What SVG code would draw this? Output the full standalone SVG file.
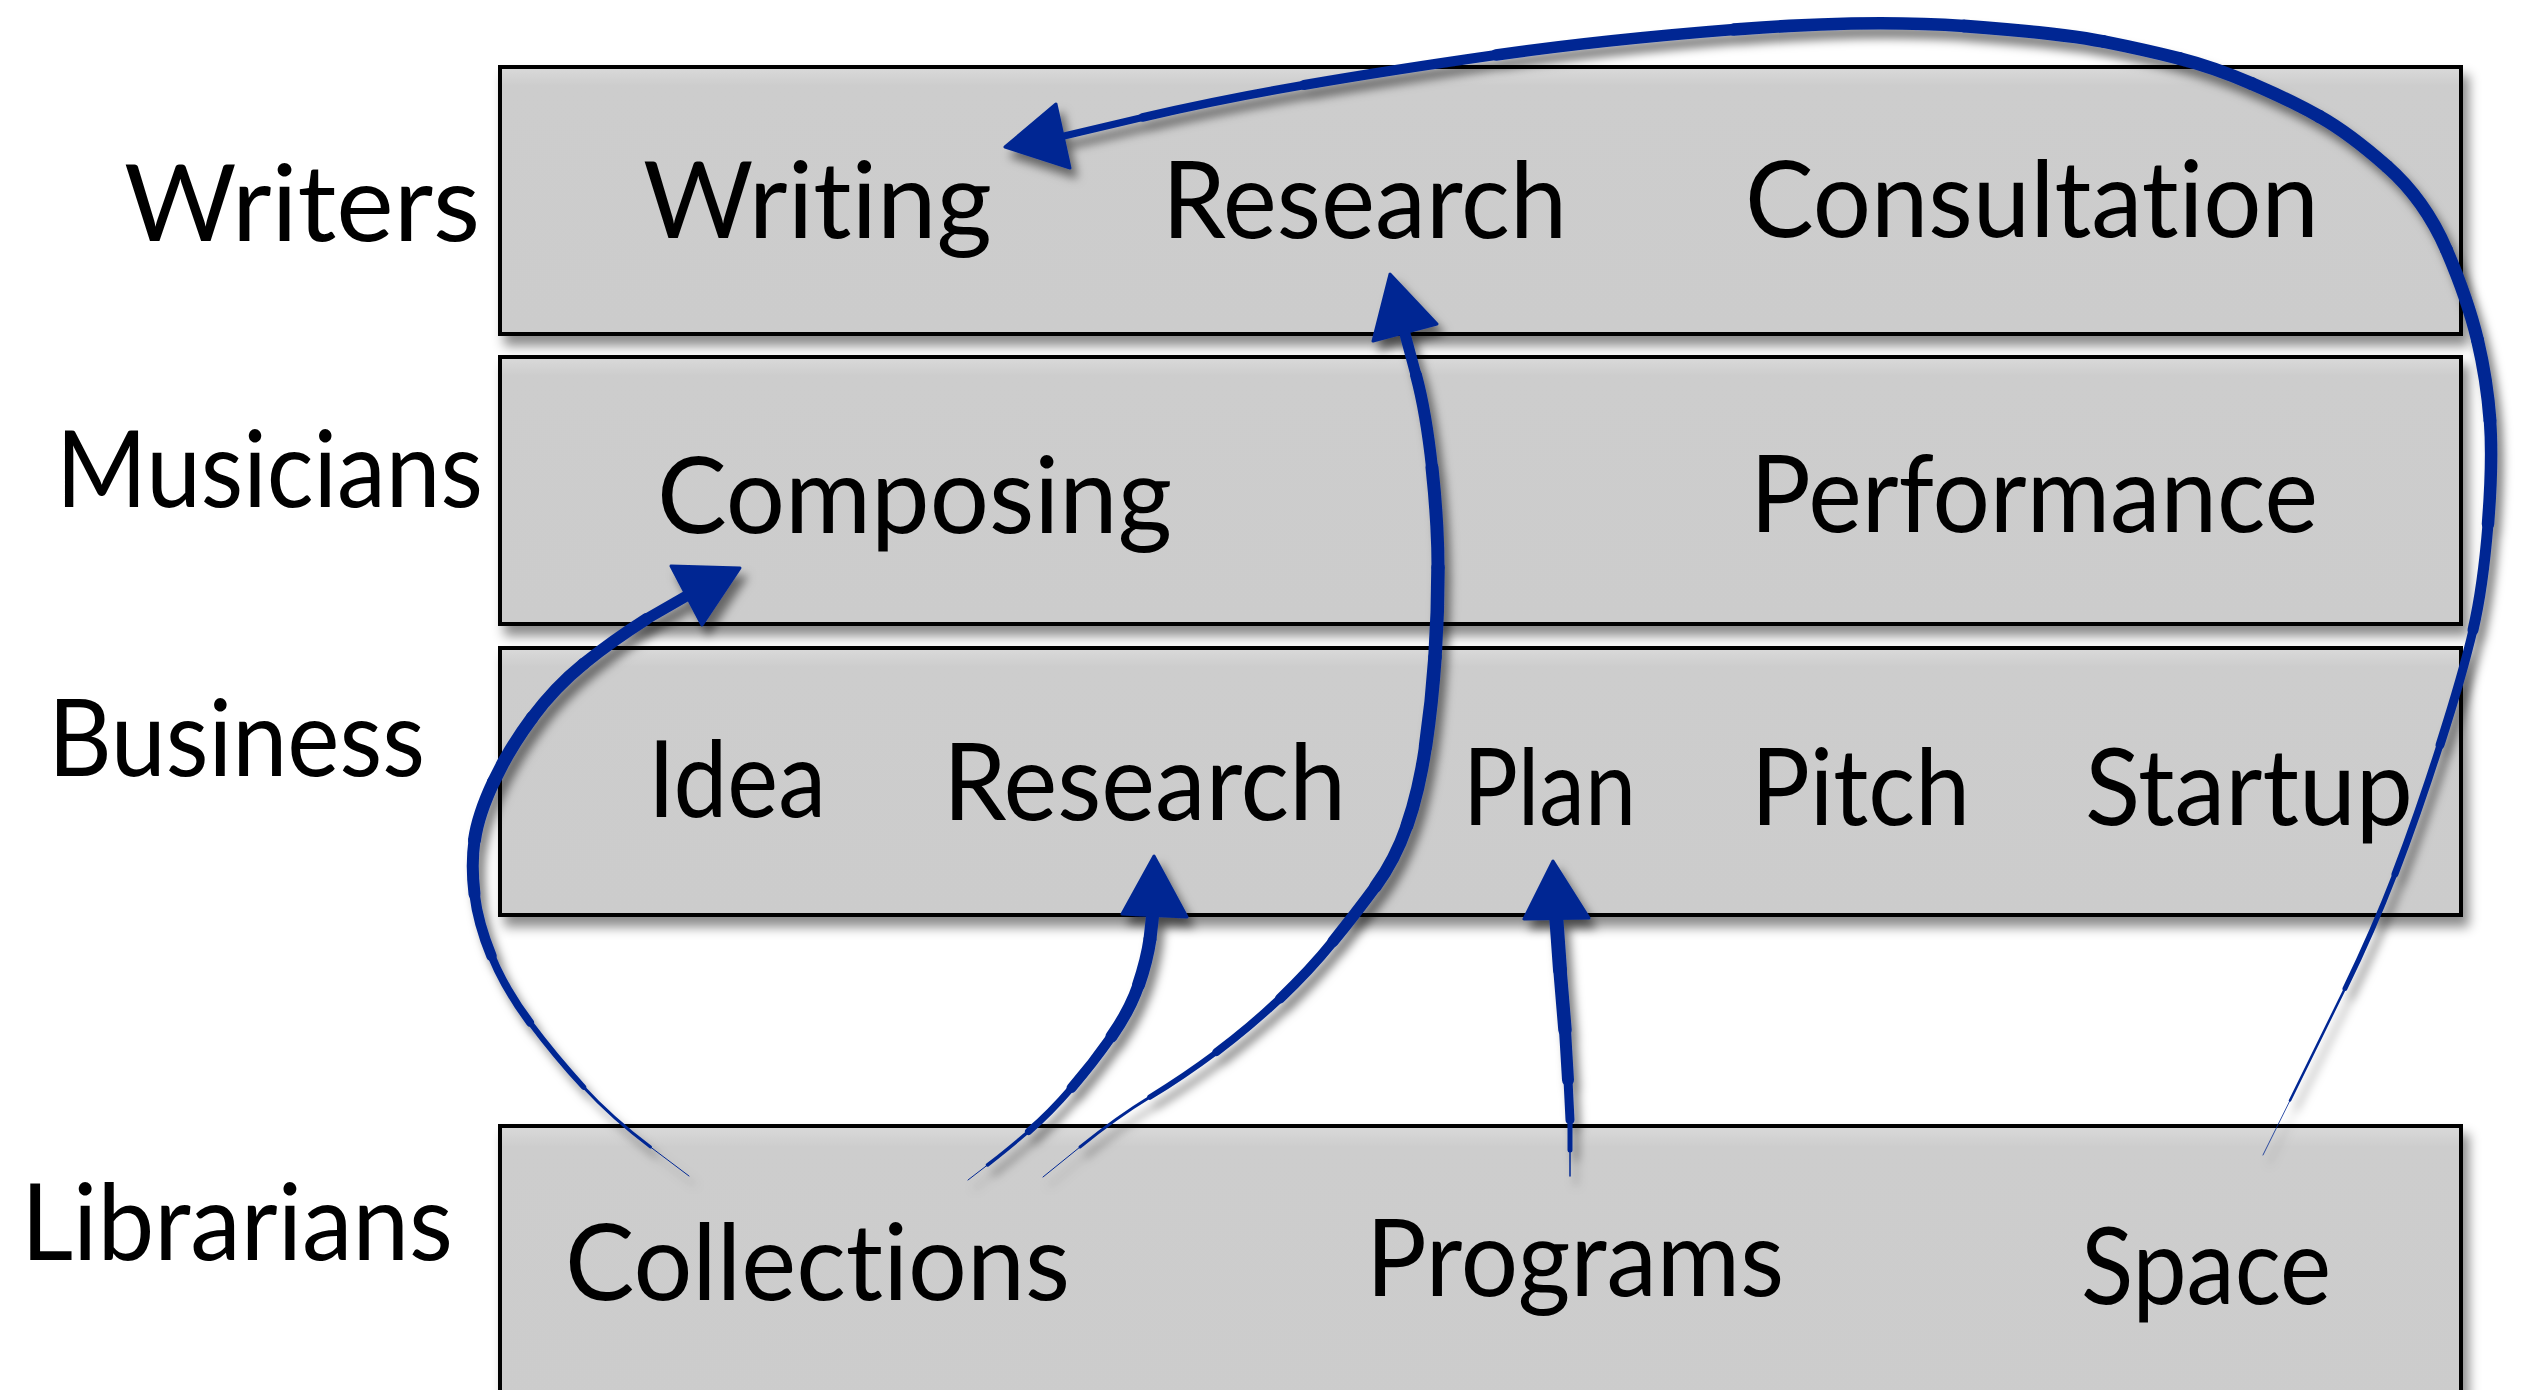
<svg xmlns="http://www.w3.org/2000/svg" width="2524" height="1390" viewBox="0 0 2524 1390">
  <style>
    .box { fill: url(#boxfill); stroke: #000; stroke-width: 4; }
    .lbl { font-family: Lato, "Open Sans", sans-serif; font-size: 106px; fill: #000; font-variant-ligatures: none; font-feature-settings: "liga" 0, "clig" 0; }
    .seg { fill: none; stroke: #002893; stroke-linecap: round; stroke-linejoin: round; }
    .head { fill: #002893; stroke: #002893; stroke-width: 3; stroke-linejoin: round; }
  </style>
  <defs>
    <linearGradient id="boxfill" x1="0" y1="0" x2="0" y2="1">
      <stop offset="0" stop-color="#dadada"/>
      <stop offset="0.07" stop-color="#cdcdcd"/>
      <stop offset="1" stop-color="#cccccc"/>
    </linearGradient>
    <filter id="boxshadow" x="-5%" y="-10%" width="115%" height="140%">
      <feDropShadow dx="6" dy="10" stdDeviation="6" flood-color="#000" flood-opacity="0.45"/>
    </filter>
    <filter id="arrowshadow" x="-10%" y="-10%" width="130%" height="130%">
      <feDropShadow dx="6" dy="9" stdDeviation="5" flood-color="#000" flood-opacity="0.5"/>
    </filter>
  </defs>
  <rect width="2524" height="1390" fill="#ffffff"/>

  <g id="writers">
    <rect class="box" x="500" y="67" width="1961" height="267" filter="url(#boxshadow)"/>
    <text class="lbl" x="124" y="241" textLength="356" lengthAdjust="spacingAndGlyphs">Writers</text>
    <text class="lbl" x="643" y="238" textLength="349" lengthAdjust="spacingAndGlyphs">Writing</text>
    <text class="lbl" x="1162" y="238" textLength="405" lengthAdjust="spacingAndGlyphs">Research</text>
    <text class="lbl" x="1745" y="237" textLength="574" lengthAdjust="spacingAndGlyphs">Consultation</text>
  </g>
  <g id="musicians">
    <rect class="box" x="500" y="357" width="1961" height="267" filter="url(#boxshadow)"/>
    <text class="lbl" x="56" y="507" textLength="427" lengthAdjust="spacingAndGlyphs">Musicians</text>
    <text class="lbl" x="657" y="533" textLength="515" lengthAdjust="spacingAndGlyphs">Composing</text>
    <text class="lbl" x="1750" y="532" textLength="568" lengthAdjust="spacingAndGlyphs">Performance</text>
  </g>
  <g id="business">
    <rect class="box" x="500" y="648" width="1961" height="267" filter="url(#boxshadow)"/>
    <text class="lbl" x="48" y="776" textLength="377" lengthAdjust="spacingAndGlyphs">Business</text>
    <text class="lbl" x="648" y="817" textLength="178" lengthAdjust="spacingAndGlyphs">Idea</text>
    <text class="lbl" x="943" y="820" textLength="403" lengthAdjust="spacingAndGlyphs">Research</text>
    <text class="lbl" x="1463" y="825" textLength="173" lengthAdjust="spacingAndGlyphs">Plan</text>
    <text class="lbl" x="1751" y="825" textLength="219" lengthAdjust="spacingAndGlyphs">Pitch</text>
    <text class="lbl" x="2085" y="825" textLength="328" lengthAdjust="spacingAndGlyphs">Startup</text>
  </g>
  <g id="librarians">
    <rect class="box" x="500" y="1126" width="1961" height="300" filter="url(#boxshadow)"/>
    <text class="lbl" x="21" y="1260" textLength="432" lengthAdjust="spacingAndGlyphs">Librarians</text>
    <text class="lbl" x="565" y="1300" textLength="505" lengthAdjust="spacingAndGlyphs">Collections</text>
    <text class="lbl" x="1366" y="1296" textLength="418" lengthAdjust="spacingAndGlyphs">Programs</text>
    <text class="lbl" x="2081" y="1304" textLength="250" lengthAdjust="spacingAndGlyphs">Space</text>
  </g>

  <g id="connectors" filter="url(#arrowshadow)">
    <g id="space-to-writing">
      <path class="seg" stroke-width="0.8" d="M2263,1155 L2290,1100.5"/>
      <path class="seg" stroke-width="2.5" d="M2290,1100.5 Q2317,1046 2345,988.5"/>
      <path class="seg" stroke-width="5" d="M2345,988.5 Q2373,931 2395,874"/>
      <path class="seg" stroke-width="7" d="M2395,874 Q2417,817 2440,745"/>
      <path class="seg" stroke-width="9" d="M2440,745 Q2463,673 2473,630"/>
      <path class="seg" stroke-width="11" d="M2473,630 Q2483,587 2488,524"/>
      <path class="seg" stroke-width="12.5" d="M2488,524 Q2493,461 2490,420.5"/>
      <path class="seg" stroke-width="13" d="M2490,420.5 Q2487,380 2477.5,340"/>
      <path class="seg" stroke-width="13" d="M2477.5,340 Q2468,300 2446.5,250"/>
      <path class="seg" stroke-width="13" d="M2446.5,250 Q2425,200 2387,166.5"/>
      <path class="seg" stroke-width="13" d="M2387,166.5 Q2349,133 2319.5,116.5"/>
      <path class="seg" stroke-width="13" d="M2319.5,116.5 Q2290,100 2251.5,83.5"/>
      <path class="seg" stroke-width="13" d="M2251.5,83.5 Q2213,67 2179.5,58.5"/>
      <path class="seg" stroke-width="13" d="M2179.5,58.5 Q2146,50 2103.5,41.5"/>
      <path class="seg" stroke-width="13" d="M2103.5,41.5 Q2061,33 1964,26"/>
      <path class="seg" stroke-width="12.5" d="M1964,26 Q1867,19 1734,29.5"/>
      <path class="seg" stroke-width="11.5" d="M1734,29.5 Q1601,40 1496,55"/>
      <path class="seg" stroke-width="10" d="M1496,55 Q1391,70 1304,85"/>
      <path class="seg" stroke-width="8.5" d="M1304,85 Q1217,100 1142.5,117.5"/>
      <path class="seg" stroke-width="7" d="M1142.5,117.5 L1064,136"/>
      <polygon class="head" points="1005,147 1056,104 1070,168"/>
    </g>
    <g id="collections-to-writers-research">
      <path class="seg" stroke-width="1" d="M1043,1177 L1080,1147"/>
      <path class="seg" stroke-width="3" d="M1080,1147 Q1117,1117 1150,1097"/>
      <path class="seg" stroke-width="5.5" d="M1150,1097 Q1183,1077 1216.5,1052"/>
      <path class="seg" stroke-width="8" d="M1216.5,1052 Q1250,1027 1280,998.5"/>
      <path class="seg" stroke-width="10" d="M1280,998.5 Q1310,970 1333,941.5"/>
      <path class="seg" stroke-width="11.5" d="M1333,941.5 Q1356,913 1375.5,886.5"/>
      <path class="seg" stroke-width="12.5" d="M1375.5,886.5 Q1395,860 1407,825.5"/>
      <path class="seg" stroke-width="13" d="M1407,825.5 Q1419,791 1425.5,746.5"/>
      <path class="seg" stroke-width="13.5" d="M1425.5,746.5 Q1432,702 1435,657"/>
      <path class="seg" stroke-width="13.5" d="M1435,657 Q1438,612 1438,567.5"/>
      <path class="seg" stroke-width="13" d="M1438,567.5 Q1438,523 1432,467.5"/>
      <path class="seg" stroke-width="12" d="M1432,467.5 Q1426,412 1416,375"/>
      <path class="seg" stroke-width="11" d="M1416,375 L1405,334"/>
      <polygon class="head" points="1390,274 1373,341 1437,324"/>
    </g>
    <g id="collections-to-business-research">
      <path class="seg" stroke-width="1" d="M968,1180 L987.5,1165"/>
      <path class="seg" stroke-width="3.5" d="M987.5,1165 Q1007,1150 1028.5,1131.5"/>
      <path class="seg" stroke-width="7" d="M1028.5,1131.5 Q1050,1113 1071.5,1088"/>
      <path class="seg" stroke-width="10" d="M1071.5,1088 Q1093,1063 1111.5,1036.5"/>
      <path class="seg" stroke-width="12" d="M1111.5,1036.5 Q1130,1010 1138.5,985"/>
      <path class="seg" stroke-width="13" d="M1138.5,985 Q1147,960 1150,939"/>
      <path class="seg" stroke-width="13" d="M1150,939 L1153,912"/>
      <polygon class="head" points="1154,856 1122,914 1187,917"/>
    </g>
    <g id="collections-to-composing">
      <path class="seg" stroke-width="1" d="M689,1176 L650.5,1147"/>
      <path class="seg" stroke-width="3" d="M650.5,1147 Q612,1118 583.5,1087"/>
      <path class="seg" stroke-width="5.5" d="M583.5,1087 Q555,1056 530,1022.5"/>
      <path class="seg" stroke-width="8" d="M530,1022.5 Q505,989 491.5,956"/>
      <path class="seg" stroke-width="10.5" d="M491.5,956 Q478,923 474.5,894"/>
      <path class="seg" stroke-width="12" d="M474.5,894 Q471,865 474.5,840"/>
      <path class="seg" stroke-width="13" d="M474.5,840 Q478,815 493.5,782"/>
      <path class="seg" stroke-width="13" d="M493.5,782 Q509,749 532,718"/>
      <path class="seg" stroke-width="12.5" d="M532,718 Q555,687 583.5,664"/>
      <path class="seg" stroke-width="12" d="M583.5,664 Q612,641 646.5,619"/>
      <path class="seg" stroke-width="11" d="M646.5,619 L690,594"/>
      <polygon class="head" points="740,568 671,566 702,625"/>
    </g>
    <g id="programs-to-plan">
      <path class="seg" stroke-width="1.5" d="M1570,1176 L1570,1150"/>
      <path class="seg" stroke-width="5" d="M1570,1150 L1570,1120"/>
      <path class="seg" stroke-width="9" d="M1570,1120 L1568,1080"/>
      <path class="seg" stroke-width="12" d="M1568,1080 L1565,1030"/>
      <path class="seg" stroke-width="13.5" d="M1565,1030 L1560,970"/>
      <path class="seg" stroke-width="14" d="M1560,970 L1556,914"/>
      <polygon class="head" points="1553,861 1524,919 1589,918"/>
    </g>
  </g>
</svg>
